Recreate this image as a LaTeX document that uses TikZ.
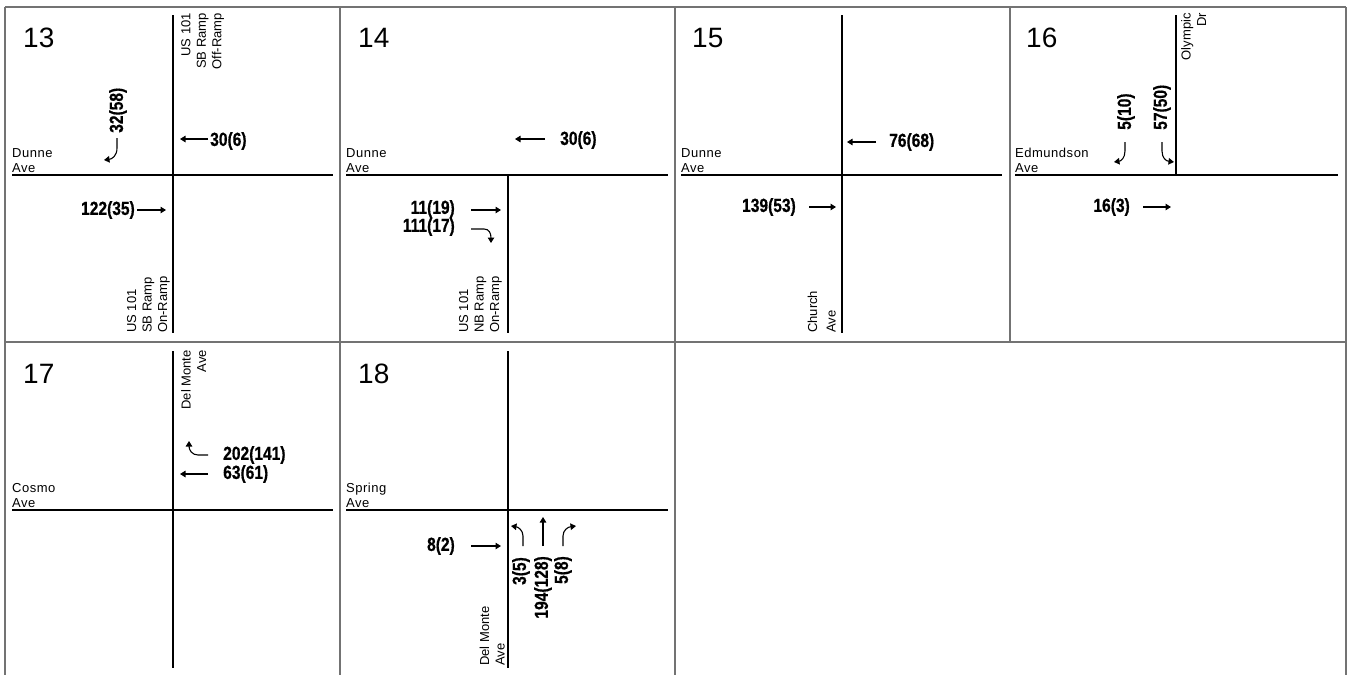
\documentclass[tikz,border=0pt]{standalone}
\usepackage{fontspec}
\setmainfont{Liberation Sans}
\newfontfamily\volfont{Liberation Sans}[FakeStretch=0.82, FakeBold=0.6]
\newfontfamily\roadfont{Liberation Sans}[LetterSpace=4]
\usetikzlibrary{arrows.meta}

\begin{document}
\begin{tikzpicture}[
    x=1pt, y=-1pt,
    grid/.style={draw=black!55, line width=1.5pt},
    road/.style={draw=black, line width=1.8pt},
    num/.style={anchor=base west, inner sep=0pt, font=\fontsize{28}{30}\selectfont},
    street/.style={inner sep=0pt, anchor=south west, align=left, font=\roadfont\fontsize{13}{15.5}\selectfont},
    sidestreet/.style={inner sep=0pt, rotate=90, font=\fontsize{13}{15.5}\selectfont},
    vol/.style={inner sep=0pt, font=\volfont\bfseries\fontsize{19}{19}\selectfont},
    arr/.style={-{Triangle[length=5.5pt,width=6.5pt]}, line width=1.1pt},
  ]
  \useasboundingbox (0,0) rectangle (1349,675);

  \draw[grid] (5,7) -- (1346,7);
  \draw[grid] (5,342) -- (1346,342);
  \draw[grid] (5,7) -- (5,675);
  \draw[grid] (340,7) -- (340,675);
  \draw[grid] (675,7) -- (675,675);
  \draw[grid] (1010,7) -- (1010,342);
  \draw[grid] (1346,7) -- (1346,675);

  % 13
  \node[num] (n13) at (23,47) {13};
  \draw[road] (173,15) -- (173,333);
  \draw[road] (12,175) -- (333,175);
  \node[street] (w13) at (12,173) {Dunne\\Ave};
  \node[sidestreet, anchor=north east, align=right] (nb13) at (181,13) {US 101\\SB Ramp\\Off-Ramp};
  \node[sidestreet, anchor=south west, align=left] (sb13) at (170,333) {US 101\\SB Ramp\\On-Ramp};
  \node[vol, rotate=90, anchor=west] (v13a) at (118,133) {32(58)};
  \draw[arr] (117,138) -- (117,148) .. controls (117,156) and (112,159) .. (104,160);
  \node[vol, anchor=west] (v13b) at (210,141) {30(6)};
  \draw[arr] (208,139) -- (180,139);
  \node[vol, anchor=east] (v13c) at (135,210) {122(35)};
  \draw[arr] (137,210) -- (166,210);

  % 14
  \node[num] (n14) at (358,47) {14};
  \draw[road] (346,175) -- (668,175);
  \draw[road] (508,175) -- (508,333);
  \node[street] (w14) at (346,173) {Dunne\\Ave};
  \node[sidestreet, anchor=south west, align=left] (sb14) at (502,333) {US 101\\NB Ramp\\On-Ramp};
  \node[vol, anchor=west] (v14a) at (560,140) {30(6)};
  \draw[arr] (545,139) -- (515,139);
  \node[vol, anchor=east] (v14b) at (455,209) {11(19)};
  \draw[arr] (471,210) -- (501,210);
  \node[vol, anchor=east] (v14c) at (455,227) {111(17)};
  \draw[arr] (471,229) -- (484,229) .. controls (489,229) and (491,233) .. (491,243);

  % 15
  \node[num] (n15) at (692,47) {15};
  \draw[road] (842,15) -- (842,333);
  \draw[road] (681,175) -- (1002,175);
  \node[street] (w15) at (681,173) {Dunne\\Ave};
  \node[sidestreet, anchor=south west, align=left] (sb15) at (836,333) {Church\\[3pt]Ave};
  \node[vol, anchor=west] (v15a) at (889,142) {76(68)};
  \draw[arr] (876,142) -- (847,142);
  \node[vol, anchor=east] (v15b) at (796,207) {139(53)};
  \draw[arr] (809,207) -- (836,207);

  % 16
  \node[num] (n16) at (1026,47) {16};
  \draw[road] (1176,15) -- (1176,175);
  \draw[road] (1015,175) -- (1338,175);
  \node[street] (w16) at (1015,173) {Edmundson\\Ave};
  \node[sidestreet, anchor=north east, align=right] (nb16) at (1181,13) {Olympic\\Dr};
  \node[vol, rotate=90, anchor=west] (v16a) at (1126,130) {5(10)};
  \node[vol, rotate=90, anchor=west] (v16b) at (1162,130) {57(50)};
  \draw[arr] (1125,142) -- (1125,151) .. controls (1125,158) and (1121,161) .. (1114,162);
  \draw[arr] (1162,142) -- (1162,151) .. controls (1162,158) and (1166,161) .. (1174,162);
  \node[vol, anchor=east] (v16c) at (1130,207) {16(3)};
  \draw[arr] (1143,207) -- (1171,207);

  % 17
  \node[num] (n17) at (23,383) {17};
  \draw[road] (173,351) -- (173,668);
  \draw[road] (12,510) -- (333,510);
  \node[street] (w17) at (12,508) {Cosmo\\Ave};
  \node[sidestreet, anchor=north east, align=right] (nb17) at (181,350) {Del Monte\\Ave};
  \node[vol, anchor=west] (v17a) at (223,455) {202(141)};
  \node[vol, anchor=west] (v17b) at (223,474) {63(61)};
  \draw[arr] (208,455) -- (198,455) .. controls (192,455) and (189,450) .. (189,441);
  \draw[arr] (208,474) -- (180,474);

  % 18
  \node[num] (n18) at (358,383) {18};
  \draw[road] (508,351) -- (508,668);
  \draw[road] (346,510) -- (668,510);
  \node[street] (w18) at (346,508) {Spring\\Ave};
  \node[sidestreet, anchor=south west, align=left] (sb18) at (505,666) {Del Monte\\Ave};
  \node[vol, anchor=east] (v18a) at (455,546) {8(2)};
  \draw[arr] (471,546) -- (501,546);
  \draw[arr] (523,546) -- (523,536) .. controls (523,530) and (518,527) .. (511,526);
  \draw[arr] (543,546) -- (543,517);
  \draw[arr] (563,546) -- (563,536) .. controls (563,530) and (568,527) .. (576,526);
  \node[vol, rotate=90, anchor=east] (v18b) at (521,557) {3(5)};
  \node[vol, rotate=90, anchor=east] (v18c) at (543,556) {194(128)};
  \node[vol, rotate=90, anchor=east] (v18d) at (563,556) {5(8)};
\end{tikzpicture}
\end{document}
